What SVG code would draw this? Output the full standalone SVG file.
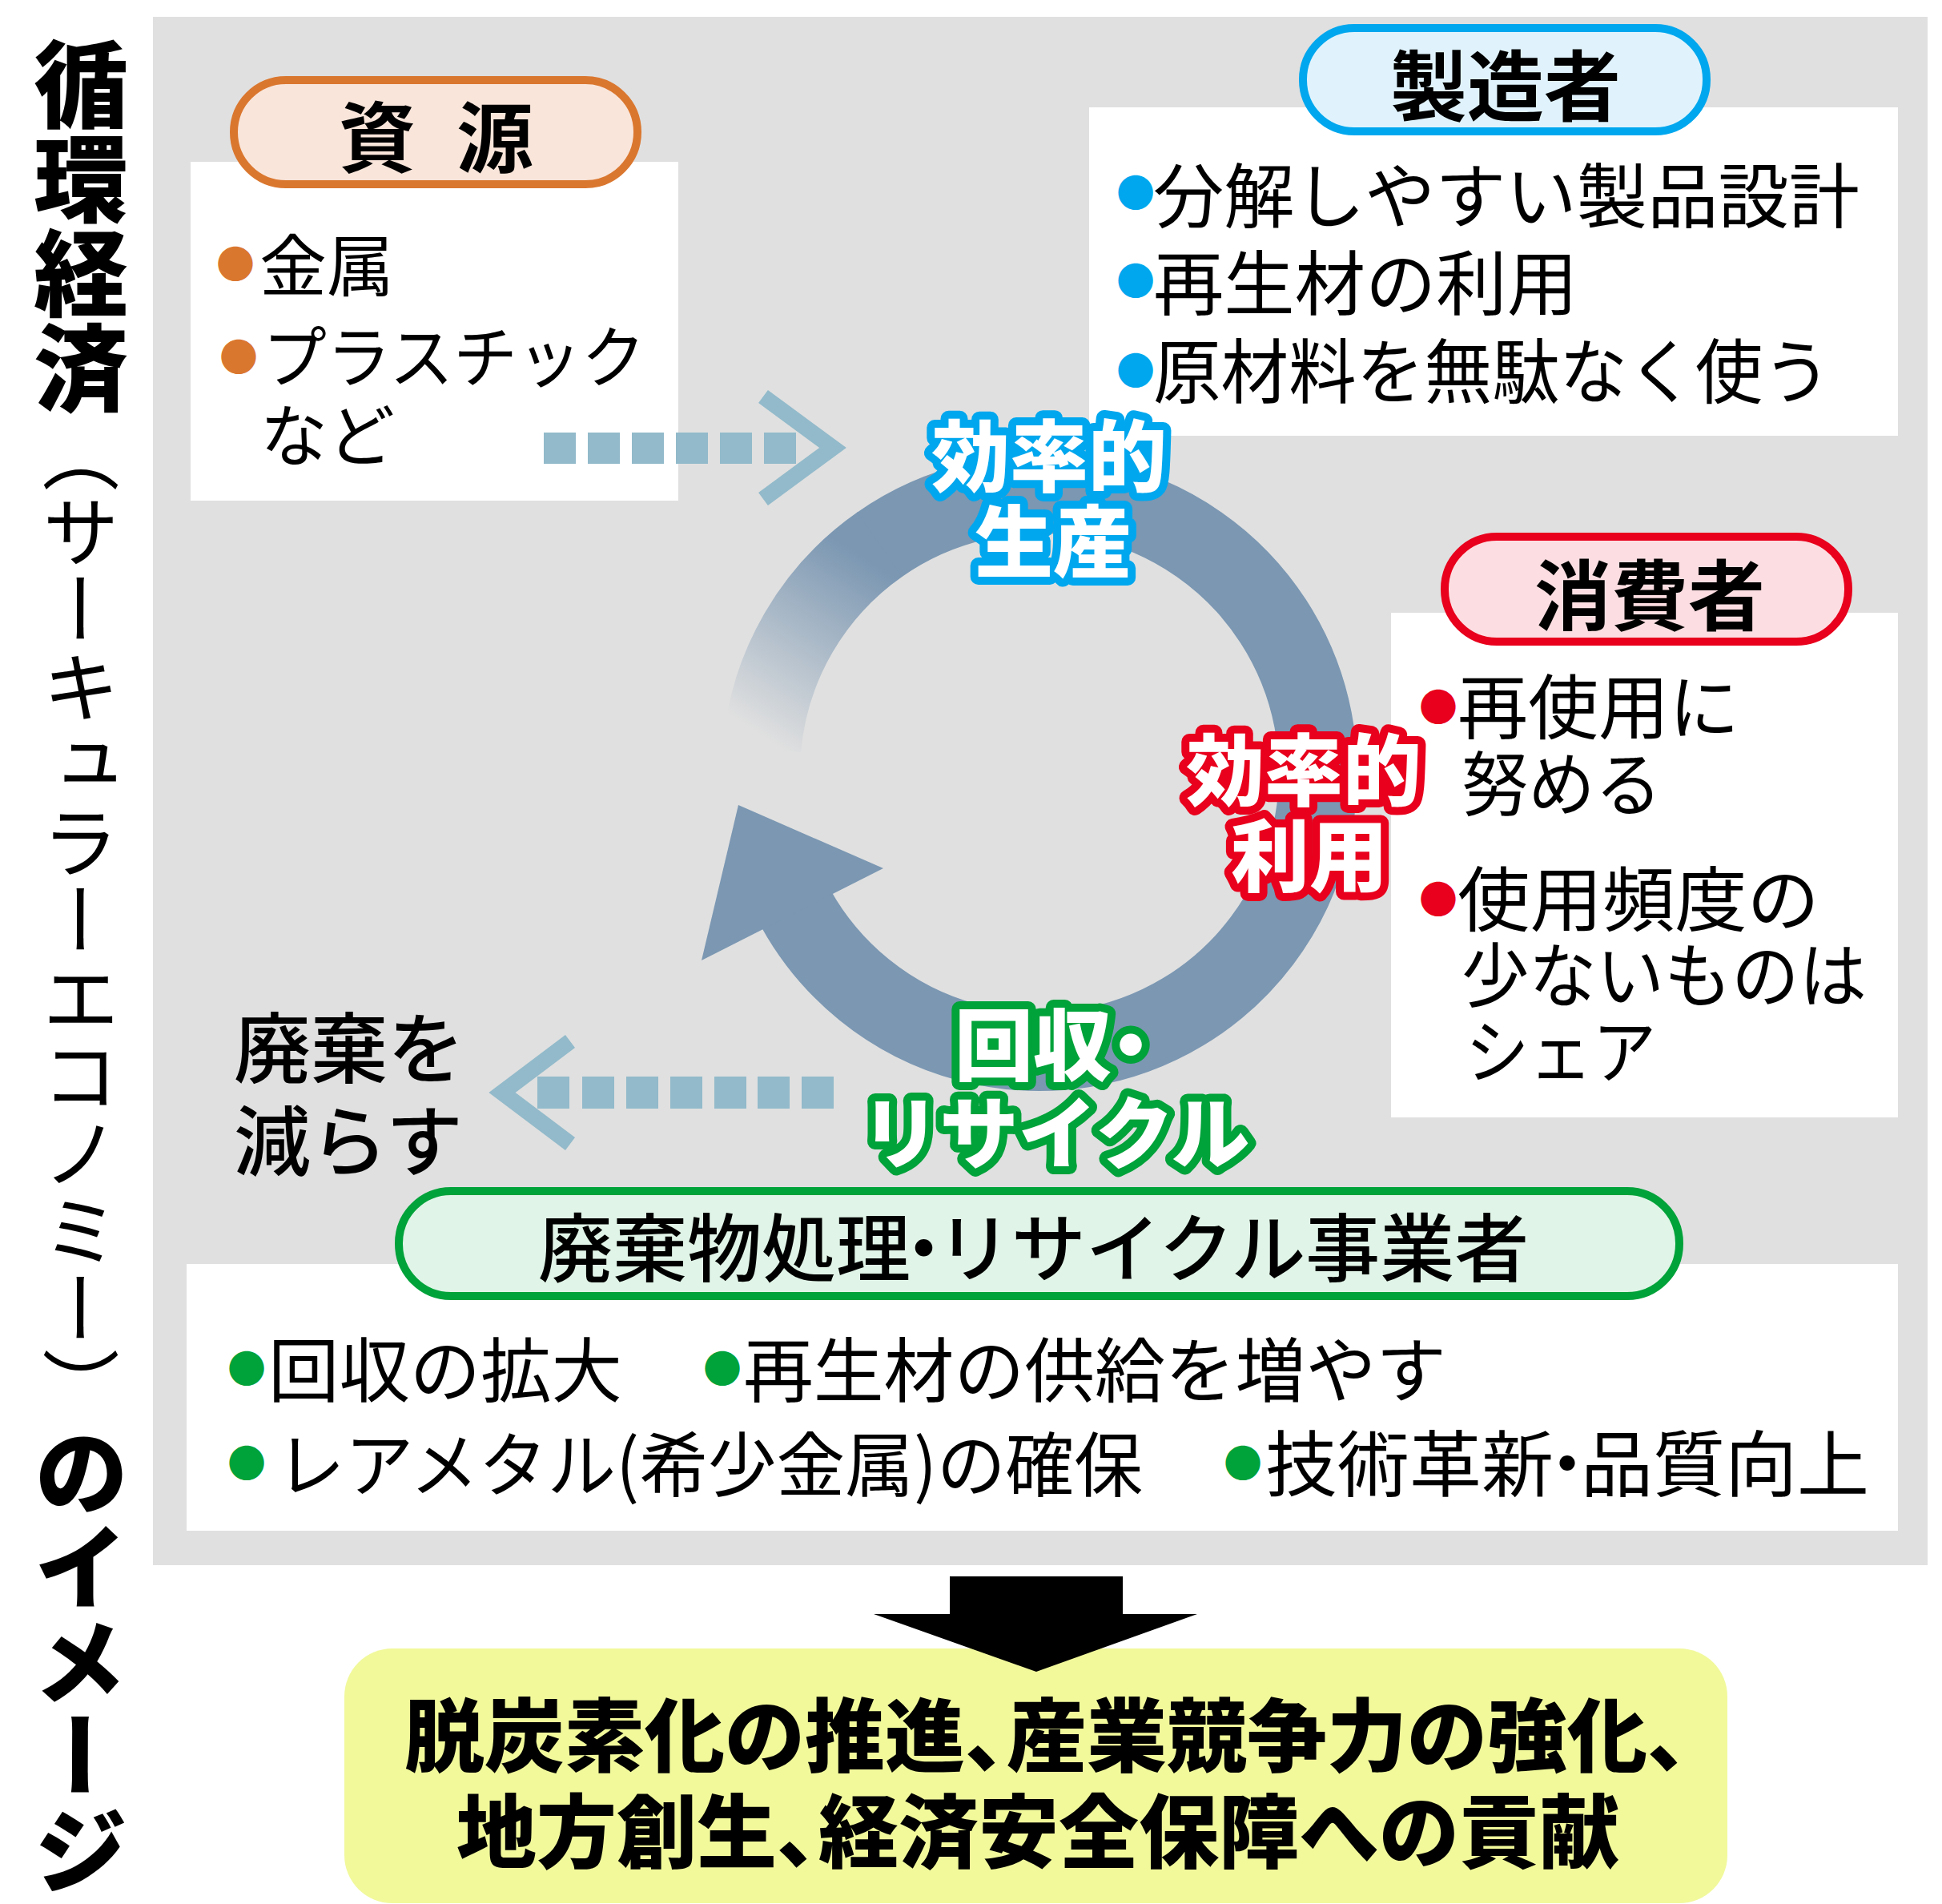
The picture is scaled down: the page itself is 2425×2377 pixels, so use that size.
<svg xmlns="http://www.w3.org/2000/svg" width="2425" height="2377" viewBox="0 0 2425 2377">
<defs>
<style>
text{font-family:"Noto Sans CJK JP","Noto Sans CJK SC",sans-serif;dominant-baseline:central}
.it{font-size:88px;font-weight:400}
.pt{font-size:96px;font-weight:700;text-anchor:middle}
.lb{font-size:98px;font-weight:900;fill:#fff;stroke-width:20px;stroke-linejoin:round;paint-order:stroke;text-anchor:middle}
.bu{font-size:48px;text-anchor:middle}
.or{fill:#DA772F}
.bl{fill:#00A7EE}
.rd{fill:#E8001C}
.gr{fill:#00A23A}
.box{fill:#fff}
.sq{fill:#92BACA}
.chev{fill:none;stroke:#92BACA;stroke-width:20;stroke-linejoin:miter}
.ring{fill:none;stroke-width:98}
.res{font-size:100px;font-weight:900}
</style>
<linearGradient id="fade" gradientUnits="userSpaceOnUse" x1="930" y1="905" x2="1070" y2="690">
<stop offset="0" stop-color="#7B97B2" stop-opacity="0"/>
<stop offset="1" stop-color="#7B97B2" stop-opacity="1"/>
</linearGradient>
</defs>
<rect width="2425" height="2377" fill="#fff"/>
<g id="title">
<text x="101" y="46" style="writing-mode:vertical-rl"><tspan font-size="118" font-weight="900">循環経済</tspan><tspan font-size="97" font-weight="400">（サーキュラーエコノミー）</tspan><tspan font-size="118" font-weight="900">のイメージ</tspan></text>
</g>
<rect id="panel" x="191" y="21" width="2216" height="1933" fill="#E0E0E0"/>
<g id="node-resource">
<rect class="box" x="238" y="202" width="609" height="423"/>
<rect x="292" y="100" width="504" height="130" rx="65" fill="#F9E5DA" stroke="#DA772F" stroke-width="10"/>
<text class="pt" x="471 548 618" y="165" font-size="92">資 源</text>
<text class="bu or" x="294" y="326">●</text>
<text x="324" y="326" font-size="84">金属</text>
<text class="bu or" x="298" y="442">●</text>
<text x="328" y="440" font-size="84" textLength="478" lengthAdjust="spacingAndGlyphs">プラスチック</text>
<text x="325" y="538" font-size="84">など</text>
</g>
<g id="node-maker">
<rect class="box" x="1360" y="134" width="1010" height="410"/>
<rect x="1627" y="35" width="504" height="129" rx="64" fill="#E0F3FC" stroke="#00A7EE" stroke-width="10"/>
<text class="pt" x="1880" y="101">製造者</text>
<text class="bu bl" x="1418" y="237">●</text>
<text class="it" x="1440" y="238" textLength="882" lengthAdjust="spacingAndGlyphs">分解しやすい製品設計</text>
<text class="bu bl" x="1418" y="347">●</text>
<text class="it" x="1440" y="347" textLength="530" lengthAdjust="spacingAndGlyphs">再生材の利用</text>
<text class="bu bl" x="1418" y="459">●</text>
<text class="it" x="1440" y="457" textLength="846" lengthAdjust="spacingAndGlyphs">原材料を無駄なく使う</text>
</g>
<g id="node-consumer">
<rect class="box" x="1737" y="765" width="633" height="630"/>
<rect x="1804" y="670" width="504" height="131" rx="65" fill="#FCDEE2" stroke="#E8001C" stroke-width="10"/>
<text class="pt" x="2060" y="737">消費者</text>
<text class="bu rd" x="1796" y="879">●</text>
<text class="it" x="1820" y="876" textLength="352" lengthAdjust="spacingAndGlyphs">再使用に</text>
<text class="it" x="1825" y="972" textLength="250" lengthAdjust="spacingAndGlyphs">努める</text>
<text class="bu rd" x="1796" y="1119">●</text>
<text class="it" x="1820" y="1116" textLength="452" lengthAdjust="spacingAndGlyphs">使用頻度の</text>
<text class="it" x="1825" y="1211" textLength="506" lengthAdjust="spacingAndGlyphs">少ないものは</text>
<text class="it" x="1830" y="1306" textLength="238" lengthAdjust="spacingAndGlyphs">シェア</text>
</g>
<g id="node-recycler">
<rect class="box" x="233" y="1578" width="2137" height="333"/>
<rect x="498" y="1487" width="1599" height="131" rx="65" fill="#E0F4E7" stroke="#00A23A" stroke-width="10"/>
<text x="672" y="1552" font-size="93" font-weight="500">廃棄物処理<tspan dx="-30">・</tspan><tspan dx="-30">リサイクル事業者</tspan></text>
<text class="bu gr" x="308" y="1705">●</text>
<text class="it" x="335" y="1704" textLength="442" lengthAdjust="spacingAndGlyphs">回収の拡大</text>
<text class="bu gr" x="902" y="1705">●</text>
<text class="it" x="928" y="1704" textLength="878" lengthAdjust="spacingAndGlyphs">再生材の供給を増やす</text>
<text class="bu gr" x="308" y="1823">●</text>
<text class="it" x="345" y="1822" textLength="1082" lengthAdjust="spacingAndGlyphs">レアメタル(希少金属)の確保</text>
<text class="bu gr" x="1552" y="1823">●</text>
<text x="1580" y="1822" font-size="90">技術革新<tspan dx="-28">・</tspan><tspan dx="-28">品質向上</tspan></text>
</g>
<g id="connectors">
<g id="cycle">
<path class="ring" stroke="url(#fade)" d="M951.3 934.7 A348 348 0 0 1 1099.2 679.3"/>
<path class="ring" stroke="#7B97B2" d="M1098.4 679.9 A348 348 0 1 1 993.6 1133.7"/>
<polygon points="922,1005 1103,1084 876,1199" fill="#7B97B2"/>
</g>
<g id="arrow-in">
<rect class="sq" x="679" y="540" width="40" height="39"/>
<rect class="sq" x="734" y="540" width="40" height="39"/>
<rect class="sq" x="789" y="540" width="40" height="39"/>
<rect class="sq" x="844" y="540" width="40" height="39"/>
<rect class="sq" x="899" y="540" width="40" height="39"/>
<rect class="sq" x="954" y="540" width="40" height="39"/>
<path class="chev" d="M953 495 L1040 559 L953 623"/>
</g>
<g id="arrow-out">
<rect class="sq" x="671" y="1344" width="40" height="40"/>
<rect class="sq" x="727" y="1344" width="40" height="40"/>
<rect class="sq" x="782" y="1344" width="40" height="40"/>
<rect class="sq" x="837" y="1344" width="40" height="40"/>
<rect class="sq" x="892" y="1344" width="40" height="40"/>
<rect class="sq" x="946" y="1344" width="40" height="40"/>
<rect class="sq" x="1001" y="1344" width="40" height="40"/>
<path class="chev" d="M712 1300 L627 1364 L712 1428"/>
</g>
</g>
<g id="cycle-labels">
<text class="lb" x="1310" y="563" stroke="#00A7EE">効率的</text>
<text class="lb" x="1315" y="670" stroke="#00A7EE">生産</text>
<text class="lb" x="1628" y="955" stroke="#E8001C">効率的</text>
<text class="lb" x="1635" y="1062" stroke="#E8001C">利用</text>
<text class="lb" x="1192" y="1298" stroke="#00A23A" style="text-anchor:start">回収<tspan dx="-25">・</tspan></text>
<text class="lb" x="1318" y="1408" stroke="#00A23A">リサイクル</text>
</g>
<g id="node-waste">
<text x="292" y="1302" font-size="96" font-weight="500">廃棄を</text>
<text x="292" y="1418" font-size="96" font-weight="500">減らす</text>
</g>
<g id="node-result">
<rect x="430" y="2058" width="1727" height="318" rx="60" fill="#F1F99B"/>
<text class="res" x="505" y="2160">脱炭素化の推進、<tspan dx="-48">産業競争力の強化、</tspan></text>
<text class="res" x="570" y="2280">地方創生、<tspan dx="-48">経済安全保障への貢献</tspan></text>
</g>
<g id="arrow-down">
<polygon points="1186,1968 1402,1968 1402,2015 1495,2015 1294,2087 1091,2015 1186,2015" fill="#000"/>
</g>
</svg>
